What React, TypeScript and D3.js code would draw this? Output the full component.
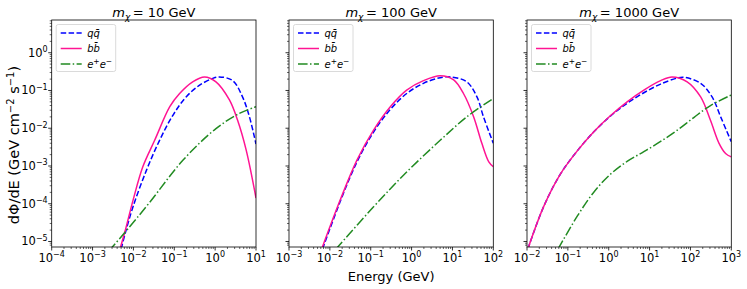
import React from "react";
import * as d3 from "d3";

// log10(E/GeV), log10(dPhi/dE)
const masses = ["10", "100", "1000"];
const xDomains: [number, number][] = [
  [1e-4, 10],
  [1e-3, 100],
  [1e-2, 1000],
];

const qq10 = [[-2.3, -5.2], [-2.2, -4.78], [-2.01, -4.08], [-1.68, -3.11], [-1.36, -2.32], [-1.03, -1.65], [-0.71, -1.17], [-0.38, -0.86], [-0.06, -0.68], [0.1, -0.64], [0.43, -0.74], [0.67, -1.17], [0.84, -1.7], [1.0, -2.42]];
const bb10 = [[-2.33, -5.2], [-2.21, -4.75], [-2.01, -3.91], [-1.77, -3.02], [-1.48, -2.32], [-1.11, -1.43], [-0.87, -1.08], [-0.55, -0.77], [-0.26, -0.64], [0.02, -0.77], [0.35, -1.25], [0.55, -1.79], [0.76, -2.58], [1.0, -3.85]];
const ee10 = [[-2.6, -5.25], [-2.2, -4.75], [-1.6, -3.96], [-0.79, -2.85], [0.02, -2.01], [0.59, -1.61], [1.0, -1.43]];

const qq100 = [[-2.18, -5.2], [-1.75, -3.95], [-1.34, -2.9], [-0.93, -2.1], [-0.52, -1.5], [-0.12, -1.08], [0.29, -0.81], [0.7, -0.66], [0.95, -0.64], [1.35, -0.77], [1.6, -1.17], [1.76, -1.7], [2.0, -2.4]];
const bb100 = [[-2.2, -5.2], [-1.75, -3.91], [-1.34, -2.85], [-0.93, -2.05], [-0.52, -1.43], [-0.12, -0.99], [0.29, -0.74], [0.7, -0.61], [1.03, -0.72], [1.27, -1.08], [1.52, -1.7], [1.72, -2.4], [1.89, -2.89], [2.0, -3.02]];
const ee100 = [[-1.85, -5.2], [-0.93, -4.08], [-0.12, -3.16], [0.7, -2.32], [1.35, -1.7], [2.0, -1.21]];

const qq1000 = [[-1.98, -5.2], [-1.59, -4.07], [-1.18, -3.21], [-0.77, -2.6], [-0.37, -2.1], [0.04, -1.68], [0.45, -1.34], [0.86, -1.06], [1.27, -0.83], [1.68, -0.67], [1.84, -0.65], [2.25, -0.81], [2.53, -1.17], [2.74, -1.7], [3.0, -2.36]];
const bb1000 = [[-1.98, -5.2], [-1.59, -4.07], [-1.18, -3.21], [-0.77, -2.6], [-0.37, -2.1], [0.04, -1.67], [0.45, -1.3], [0.86, -0.99], [1.27, -0.74], [1.55, -0.64], [1.92, -0.77], [2.25, -1.17], [2.49, -1.79], [2.7, -2.4], [2.86, -2.67], [3.0, -2.76]];
const ee1000 = [[-1.24, -5.2], [-0.77, -4.33], [-0.37, -3.7], [0.04, -3.22], [0.45, -2.88], [0.86, -2.62], [1.27, -2.35], [1.68, -2.05], [2.09, -1.71], [2.49, -1.4], [3.0, -1.12]];

const panelData = [
  { qq: qq10, bb: bb10, ee: ee10 },
  { qq: qq100, bb: bb100, ee: ee100 },
  { qq: qq1000, bb: bb1000, ee: ee1000 },
];

const seriesStyle = [
  { key: "qq", color: "#0000ff", dash: "5.5,2.4" },
  { key: "bb", color: "#ff1493", dash: "" },
  { key: "ee", color: "#228b22", dash: "9.6,2.4,1.5,2.4" },
];

const yTickExps = [0, -1, -2, -3, -4, -5];

const W = 747;
const H = 289;
const top = 20;
const bottom = 247;
const lefts = [51.7, 289, 527];
const pw = 204.3;
const font = "DejaVu Sans, sans-serif";

const y = d3.scaleLog().domain([Math.pow(10, -5.146), Math.pow(10, 0.867)]).range([bottom, top]);

function Pow10({ x, yy, e, anchor }: { x: number; yy: number; e: number; anchor: string }) {
  const s = e < 0 ? "\u2212" + Math.abs(e) : String(e);
  return (
    <text x={x} y={yy} textAnchor={anchor} fontSize={11.5} fontFamily={font} fill="#000">
      10<tspan dy={-4.5} fontSize={8}>{s}</tspan>
    </text>
  );
}

function Panel({ i }: { i: number }) {
  const x0 = lefts[i];
  const x = d3.scaleLog().domain(xDomains[i]).range([x0, x0 + pw]);
  const line = d3
    .line<number[]>()
    .x((d) => x(Math.pow(10, d[0])))
    .y((d) => y(Math.pow(10, d[1])))
    .curve(d3.curveCatmullRom.alpha(0.5));
  const data = panelData[i] as any;
  const [lo, hi] = xDomains[i];
  const xMajor: number[] = [];
  const xMinor: number[] = [];
  for (let p = Math.log10(lo); p <= Math.log10(hi) + 1e-9; p++) {
    xMajor.push(Math.pow(10, p));
    for (let k = 2; k <= 9; k++) if (k * Math.pow(10, p) < hi) xMinor.push(k * Math.pow(10, p));
  }
  const yMinor: number[] = [];
  for (let p = -6; p <= 0; p++) for (let k = 2; k <= 9; k++) {
    const v = k * Math.pow(10, p);
    if (v >= y.domain()[0] && v <= y.domain()[1]) yMinor.push(v);
  }
  const cx = x0 + pw / 2;
  return (
    <g>
      <clipPath id={"clip" + i}>
        <rect x={x0} y={top} width={pw} height={bottom - top} />
      </clipPath>
      <g clipPath={`url(#clip${i})`}>
        {seriesStyle.map((s) => (
          <path key={s.key} d={line(data[s.key]) || ""} fill="none" stroke={s.color} strokeWidth={1.5} strokeDasharray={s.dash} />
        ))}
      </g>
      <rect x={x0} y={top} width={pw} height={bottom - top} fill="none" stroke="#000" strokeWidth={0.8} />
      {xMajor.map((v) => (
        <g key={"xM" + v}>
          <line x1={x(v)} x2={x(v)} y1={bottom} y2={bottom + 3.5} stroke="#000" strokeWidth={0.8} />
          <Pow10 x={x(v)} yy={261.5} e={Math.round(Math.log10(v))} anchor="middle" />
        </g>
      ))}
      {xMinor.map((v) => (
        <line key={"xm" + v} x1={x(v)} x2={x(v)} y1={bottom} y2={bottom + 2} stroke="#000" strokeWidth={0.6} />
      ))}
      {yTickExps.map((e) => (
        <g key={"yM" + e}>
          <line x1={x0 - 3.5} x2={x0} y1={y(Math.pow(10, e))} y2={y(Math.pow(10, e))} stroke="#000" strokeWidth={0.8} />
          {i === 0 && <Pow10 x={x0 - 4} yy={y(Math.pow(10, e)) + 4} e={e} anchor="end" />}
        </g>
      ))}
      {yMinor.map((v) => (
        <line key={"ym" + v} x1={x0 - 2} x2={x0} y1={y(v)} y2={y(v)} stroke="#000" strokeWidth={0.6} />
      ))}
      <text x={cx} y={16.5} textAnchor="middle" fontSize={13} fontFamily={font}>
        <tspan fontStyle="italic">m</tspan>
        <tspan dy={3} fontSize={9} fontStyle="italic">χ</tspan>
        <tspan dy={-3}>{"\u2009= " + masses[i] + " GeV"}</tspan>
      </text>
      <g>
        <rect x={x0 + 4.5} y={top + 4.5} width={59.5} height={47} rx={2} fill="#fff" fillOpacity={0.8} stroke="#d0d0d0" strokeWidth={0.8} />
        {seriesStyle.map((s, j) => {
          const ly = top + 13 + j * 15.5;
          return (
            <g key={"leg" + s.key}>
              <line x1={x0 + 9} x2={x0 + 30} y1={ly} y2={ly} stroke={s.color} strokeWidth={1.5} strokeDasharray={s.dash} />
              <text x={x0 + 35.5} y={ly + 3.5} fontSize={10} fontFamily={font} fontStyle="italic">
                {j === 0 && "q\u0071\u0304"}
                {j === 1 && "b\u0062\u0304"}
                {j === 2 && (
                  <>
                    e<tspan dy={-4} fontSize={7.5}>+</tspan>
                    <tspan dy={4}>e</tspan>
                    <tspan dy={-4} fontSize={7.5}>{"\u2212"}</tspan>
                  </>
                )}
              </text>
            </g>
          );
        })}
      </g>
    </g>
  );
}

export default function App() {
  return (
    <svg width={W} height={H} style={{ display: "block", position: "absolute", left: 0, top: 0 }}>
      <rect width={W} height={H} fill="#fff" />
      {[0, 1, 2].map((i) => (
        <Panel key={i} i={i} />
      ))}
      <text x={(lefts[1] * 2 + pw) / 2} y={281} textAnchor="middle" fontSize={13} fontFamily={font}>
        Energy (GeV)
      </text>
      <text transform={`translate(19,145) rotate(-90)`} textAnchor="middle" fontSize={14.5} fontFamily={font}>
        dΦ/dE (GeV cm<tspan dy={-5} fontSize={10}>{"\u22122"}</tspan>
        <tspan dy={5}> s</tspan>
        <tspan dy={-5} fontSize={10}>{"\u22121"}</tspan>
        <tspan dy={5}>)</tspan>
      </text>
    </svg>
  );
}
